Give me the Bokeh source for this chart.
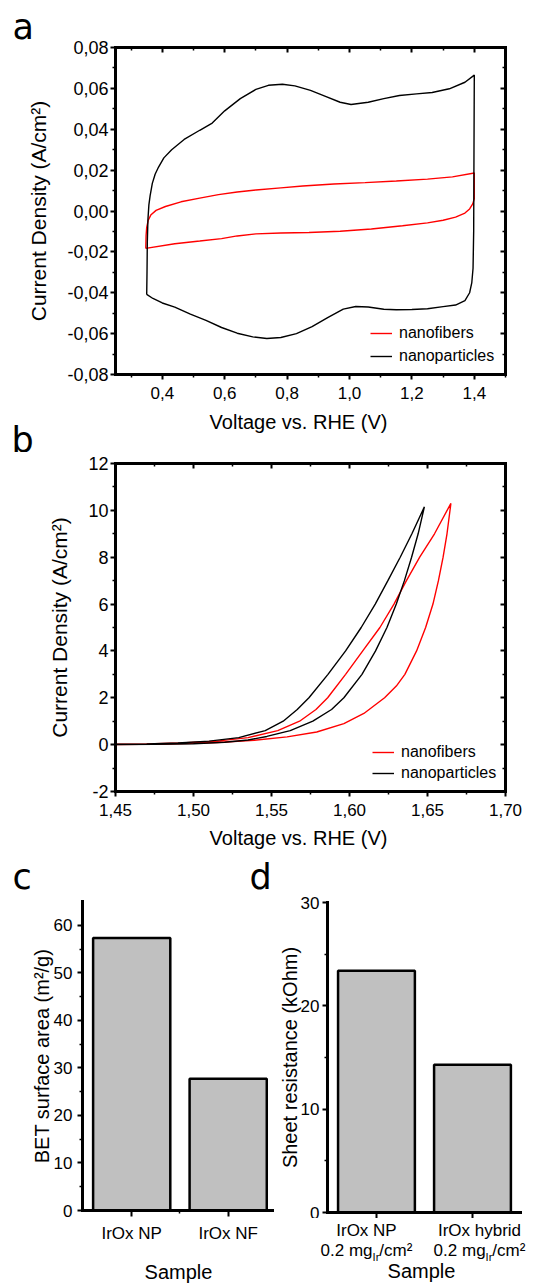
from bokeh.plotting import figure
from bokeh.models import (Range1d, LinearAxis, FixedTicker, Label, Legend,
                          LegendItem, CustomJSTickFormatter)
from bokeh.layouts import column, row
from bokeh.embed import file_html
from bokeh.resources import INLINE

FONT = "Liberation Sans"
LETTER_FONT = "DejaVu Sans"

# ---------------- data ----------------
# (a) cyclic voltammograms (V vs RHE, A/cm2)
cv_nf_v = [0.347, 0.348, 0.350, 0.355, 0.363, 0.380, 0.410, 0.460, 0.520, 0.580,
           0.640, 0.700, 0.780, 0.850, 0.950, 1.050, 1.150, 1.250, 1.330, 1.400,
           1.400, 1.395, 1.385, 1.370, 1.340, 1.300, 1.250, 1.170, 1.070, 0.970,
           0.870, 0.780, 0.700, 0.640, 0.590, 0.520, 0.440, 0.347]
cv_nf_j = [-0.0183, -0.0120, -0.0080, -0.0045, -0.0020, 0.0003, 0.0022, 0.0045, 0.0063, 0.0080,
           0.0093, 0.0103, 0.0113, 0.0122, 0.0132, 0.0139, 0.0147, 0.0156, 0.0167, 0.0186,
           0.0060, 0.0035, 0.0010, -0.0010, -0.0030, -0.0045, -0.0058, -0.0072, -0.0088, -0.0099,
           -0.0105, -0.0108, -0.0112, -0.0122, -0.0135, -0.0147, -0.0160, -0.0183]

cv_np_v = [0.350, 0.351, 0.352, 0.354, 0.357, 0.361, 0.368, 0.377, 0.388, 0.405,
           0.430, 0.470, 0.520, 0.560, 0.600, 0.650, 0.700, 0.740, 0.785, 0.825,
           0.875, 0.925, 0.970, 1.005, 1.060, 1.110, 1.160, 1.215, 1.265, 1.320,
           1.370, 1.400,
           1.399, 1.398, 1.396, 1.392, 1.385, 1.370, 1.340, 1.300, 1.250, 1.200,
           1.150, 1.110, 1.060, 1.020, 0.980, 0.930, 0.880, 0.830, 0.780, 0.735,
           0.690, 0.640, 0.590, 0.540, 0.490, 0.440, 0.400, 0.370, 0.350]
cv_np_j = [-0.0408, -0.0300, -0.0150, -0.0040, 0.0030, 0.0075, 0.0135, 0.0180, 0.0215, 0.0260,
           0.0300, 0.0350, 0.0395, 0.0430, 0.0490, 0.0550, 0.0595, 0.0615, 0.0620, 0.0612,
           0.0590, 0.0560, 0.0532, 0.0521, 0.0532, 0.0550, 0.0565, 0.0573, 0.0580, 0.0598,
           0.0630, 0.0665,
           0.0300, -0.0100, -0.0280, -0.0350, -0.0400, -0.0438, -0.0460, -0.0468, -0.0478, -0.0482,
           -0.0483, -0.0481, -0.0470, -0.0467, -0.0480, -0.0522, -0.0566, -0.0600, -0.0619, -0.0624,
           -0.0616, -0.0598, -0.0570, -0.0535, -0.0505, -0.0470, -0.0450, -0.0428, -0.0408]

a_x_ticks = [0.4, 0.6, 0.8, 1.0, 1.2, 1.4]
a_x_labels = ["0,4", "0,6", "0,8", "1,0", "1,2", "1,4"]
a_x_minor = [0.3, 0.5, 0.7, 0.9, 1.1, 1.3, 1.5]
a_y_ticks = [-0.08, -0.06, -0.04, -0.02, 0.0, 0.02, 0.04, 0.06, 0.08]
a_y_labels = ["-0,08", "-0,06", "-0,04", "-0,02", "0,00", "0,02", "0,04", "0,06", "0,08"]
a_y_minor = [-0.07, -0.05, -0.03, -0.01, 0.01, 0.03, 0.05, 0.07]

# (b) polarisation curves (V vs RHE, A/cm2): forward branch then backward branch
lsv_nf_v = [1.4500, 1.4830, 1.5150, 1.5390, 1.5600, 1.5790, 1.5964, 1.6092, 1.6225, 1.6300,
            1.6355, 1.6430, 1.6488, 1.6535, 1.6570, 1.6600, 1.6625, 1.6650,
            1.6545, 1.6450, 1.6365, 1.6285, 1.6195, 1.6085, 1.5975, 1.5860, 1.5785,
            1.5680, 1.5540, 1.5350, 1.5150, 1.4920, 1.4700, 1.4500]
lsv_nf_j = [0.00, 0.03, 0.09, 0.19, 0.33, 0.54, 0.90, 1.33, 2.00, 2.50,
            3.00, 4.00, 5.00, 6.00, 7.00, 8.00, 9.00, 10.30,
            9.00, 8.00, 7.00, 6.00, 5.00, 4.00, 3.00, 2.00, 1.50,
            1.00, 0.60, 0.30, 0.15, 0.07, 0.03, 0.02]
lsv_np_v = [1.4500, 1.4750, 1.5000, 1.5200, 1.5350, 1.5470, 1.5620, 1.5765, 1.5885, 1.5964,
            1.6080, 1.6167, 1.6240, 1.6300, 1.6352, 1.6398, 1.6440, 1.6480,
            1.6400, 1.6325, 1.6246, 1.6165, 1.6075, 1.5975, 1.5862, 1.5740, 1.5665,
            1.5575, 1.5460, 1.5290, 1.5100, 1.4900, 1.4700, 1.4500]
lsv_np_j = [0.00, 0.01, 0.04, 0.10, 0.20, 0.35, 0.60, 1.00, 1.50, 2.00,
            3.00, 4.00, 5.00, 6.00, 7.00, 8.00, 9.00, 10.15,
            9.00, 8.00, 7.00, 6.00, 5.00, 4.00, 3.00, 2.00, 1.50,
            1.00, 0.60, 0.30, 0.15, 0.07, 0.03, 0.02]

b_x_ticks = [1.45, 1.50, 1.55, 1.60, 1.65, 1.70]
b_x_labels = ["1,45", "1,50", "1,55", "1,60", "1,65", "1,70"]
b_x_minor = [1.475, 1.525, 1.575, 1.625, 1.675]
b_y_ticks = [-2, 0, 2, 4, 6, 8, 10, 12]
b_y_labels = ["-2", "0", "2", "4", "6", "8", "10", "12"]
b_y_minor = [-1, 1, 3, 5, 7, 9, 11]

series_names = ["nanofibers", "nanoparticles"]
x_title = "Voltage vs. RHE (V)"
y_title = "Current Density (A/cm²)"

# (c) BET surface area
bet_samples = ["IrOx NP", "IrOx NF"]
bet_area = [57.3, 27.7]
c_y_ticks = [0, 10, 20, 30, 40, 50, 60]
c_y_minor = [5, 15, 25, 35, 45, 55]

# (d) sheet resistance
res_samples = ["IrOx NP", "IrOx hybrid"]
res_loading = ["0.2", "0.2"]
res_kohm = [23.4, 14.3]
d_y_ticks = [0, 10, 20, 30]
d_y_minor = [5, 15, 25]

RED = "#ff0000"
W = 545


# ---------------- helpers ----------------
def make_fig(width, height, xr, yr, left, right, top, bottom):
    p = figure(width=width, height=height, x_range=xr, y_range=yr,
               output_backend="svg", toolbar_location=None,
               min_border_left=left, min_border_right=right,
               min_border_top=top, min_border_bottom=bottom)
    p.outline_line_color = None
    p.xgrid.visible = False
    p.ygrid.visible = False
    p.background_fill_color = "white"
    p.border_fill_color = "white"
    return p


def strip(width, height, xr=None):
    s = figure(width=width, height=height,
               x_range=xr if xr is not None else Range1d(0, width),
               y_range=Range1d(0, height), output_backend="svg",
               toolbar_location=None, x_axis_type=None, y_axis_type=None,
               min_border_left=0, min_border_right=0,
               min_border_top=0, min_border_bottom=0)
    s.outline_line_color = None
    s.background_fill_color = "white"
    s.border_fill_color = "white"
    return s


def style_axis(ax, ticks, minor, labels, inward, font_size="17px"):
    ax.ticker = FixedTicker(ticks=ticks, minor_ticks=minor)
    if labels is None:
        ax.formatter = CustomJSTickFormatter(code="return ''")
        ax.major_label_text_font_size = "0px"
        ax.major_label_standoff = 0
    else:
        ax.major_label_overrides = dict(zip(ticks, labels))
        ax.major_label_text_font_size = font_size
    ax.axis_line_width = 3
    ax.axis_line_color = "black"
    ax.axis_line_cap = "square"
    ax.major_tick_line_width = 2
    ax.minor_tick_line_width = 1.5
    ax.major_tick_line_color = "black"
    ax.minor_tick_line_color = "black"
    if inward:
        ax.major_tick_in, ax.major_tick_out = 5, 0
        ax.minor_tick_in, ax.minor_tick_out = 3, 0
    else:
        ax.major_tick_in, ax.major_tick_out = 0, 5
        ax.minor_tick_in, ax.minor_tick_out = 0, 3
    ax.major_label_text_font = FONT
    ax.major_label_text_color = "black"
    ax.axis_label_text_font = FONT
    ax.axis_label_text_font_style = "normal"
    ax.axis_label_text_font_size = "20px"
    ax.axis_label_text_color = "black"


def text_label(p, text, x, y, size, font=FONT, align="left", x_units="screen", x_offset=0):
    p.add_layout(Label(x=x, y=y, x_units=x_units, y_units="screen", x_offset=x_offset,
                       text=text, text_font=font, text_font_size=size,
                       text_baseline="alphabetic", text_align=align,
                       text_color="black"))


def curve_panel(height, xr, yr, top, bottom, xs, ys, xt, xl, xm, yt, yl, ym, legend_xy, legend_spacing):
    p = make_fig(W, height, xr, yr, 115, 40, top, bottom)
    r_nf = p.line(xs[0], ys[0], line_color=RED, line_width=1.4)
    r_np = p.line(xs[1], ys[1], line_color="black", line_width=1.4)
    style_axis(p.xaxis[0], xt, xm, xl, False)
    p.xaxis[0].major_label_standoff = 7
    style_axis(p.yaxis[0], yt, ym, yl, False, font_size="18px")
    p.yaxis[0].axis_label = y_title
    p.yaxis[0].axis_label_text_font_size = "21px"
    p.yaxis[0].major_label_standoff = 2
    p.yaxis[0].axis_label_standoff = 14
    top_ax = LinearAxis()
    style_axis(top_ax, xt, xm, None, True)
    p.add_layout(top_ax, "above")
    right_ax = LinearAxis()
    style_axis(right_ax, yt, ym, None, True)
    p.add_layout(right_ax, "right")
    leg = Legend(items=[LegendItem(label=series_names[0], renderers=[r_nf]),
                        LegendItem(label=series_names[1], renderers=[r_np])],
                 location=legend_xy, border_line_color=None, background_fill_alpha=0,
                 padding=0, margin=0, spacing=legend_spacing, glyph_width=22, glyph_height=20,
                 label_standoff=7, label_height=20, label_text_font=FONT,
                 label_text_font_size="16px", label_text_color="black")
    p.add_layout(leg)
    return p


LETTER_SIZE = "35px"

# ---------------- panel a (panel letter as the figure title) ----------------
pa = curve_panel(407, Range1d(0.25, 1.5), Range1d(-0.08, 0.08), 47, 33,
                 [cv_nf_v, cv_np_v], [cv_nf_j, cv_np_j],
                 a_x_ticks, a_x_labels, a_x_minor, a_y_ticks, a_y_labels, a_y_minor,
                 (255, 8), 3)
pa.title.text = "a"
pa.title.align = "left"
pa.title.offset = -103
pa.title.standoff = 1
pa.title.text_font = LETTER_FONT
pa.title.text_font_size = LETTER_SIZE
pa.title.text_font_style = "normal"
pa.title.text_color = "black"

# ---------------- strip: x title of a, letter "b" ----------------
s_ab = strip(W, 45)
text_label(s_ab, x_title, 298, 31, "20px", align="center")
text_label(s_ab, "b", 11, 13, LETTER_SIZE, LETTER_FONT)

# ---------------- panel b ----------------
pb = curve_panel(371, Range1d(1.45, 1.70), Range1d(-2, 12), 11, 32,
                 [lsv_nf_v, lsv_np_v], [lsv_nf_j, lsv_np_j],
                 b_x_ticks, b_x_labels, b_x_minor, b_y_ticks, b_y_labels, b_y_minor,
                 (257, 8), 1)

# ---------------- strip: x title of b, letters "c" "d" ----------------
s_bc = strip(W, 67)
text_label(s_bc, x_title, 298, 53, "20px", align="center")
text_label(s_bc, "c", 12, 14, LETTER_SIZE, LETTER_FONT)
text_label(s_bc, "d", 249, 14, LETTER_SIZE, LETTER_FONT)

# ---------------- panel c ----------------
c_x = list(range(1, len(bet_samples) + 1))
pc = make_fig(274, 395, Range1d(0.49, 2.48), Range1d(0, 65), 82, 0, 11, 75)
pc.vbar(x=c_x, top=bet_area, width=0.8, bottom=0, fill_color="#c0c0c0",
        line_color="black", line_width=2.5)
style_axis(pc.xaxis[0], c_x, [1.5], bet_samples, False)
pc.xaxis[0].major_tick_out = 6
pc.xaxis[0].major_label_standoff = 7
pc.xaxis[0].axis_label = "Sample"
pc.xaxis[0].axis_label_standoff = 15
style_axis(pc.yaxis[0], c_y_ticks, c_y_minor, [str(t) for t in c_y_ticks], False)
pc.yaxis[0].major_label_standoff = 5
pc.yaxis[0].axis_label = "BET surface area (m²/g)"
pc.yaxis[0].axis_label_standoff = -2

# ---------------- panel d ----------------
d_x = list(range(1, len(res_samples) + 1))
d_range = Range1d(0.49, 2.5)
D_LEFT, D_FRAME, D_RIGHT = 53, 193, 25
pdd = make_fig(D_LEFT + D_FRAME + D_RIGHT, 328, d_range, Range1d(0, 30), D_LEFT, D_RIGHT, 12, 6)
pdd.vbar(x=d_x, top=res_kohm, width=0.8, bottom=0, fill_color="#c0c0c0",
         line_color="black", line_width=2.5)
style_axis(pdd.xaxis[0], d_x, [], None, False)
pdd.xaxis[0].major_tick_out = 6
style_axis(pdd.yaxis[0], d_y_ticks, d_y_minor, [str(t) for t in d_y_ticks], False)
pdd.yaxis[0].major_label_standoff = 3
pdd.yaxis[0].axis_label = "Sheet resistance (kOhm)"
pdd.yaxis[0].axis_label_standoff = -3

# strip under d holding the two-line category labels (with subscript) and "Sample"
px_per_unit = D_FRAME / (d_range.end - d_range.start)
sd_range = Range1d(d_range.start - D_LEFT / px_per_unit, d_range.end + D_RIGHT / px_per_unit)
s_d = strip(D_LEFT + D_FRAME + D_RIGHT, 67, sd_range)
d_label_shift = [-10, 7]
W_MAIN = 17 * 3.057   # "0.2 mg"
W_SUB = 11 * 0.611    # "Ir"
W_TAIL = 17 * 1.944   # "/cm²"
for xi, name, load, sh in zip(d_x, res_samples, res_loading, d_label_shift):
    text_label(s_d, name, xi, 55, "17px", align="center", x_units="data", x_offset=sh)
    start = sh - (W_MAIN + W_SUB + W_TAIL) / 2
    text_label(s_d, load + " mg", xi, 35, "17px", x_units="data", x_offset=start)
    text_label(s_d, "Ir", xi, 29, "11px", x_units="data", x_offset=start + W_MAIN)
    text_label(s_d, "/cm²", xi, 35, "17px", x_units="data", x_offset=start + W_MAIN + W_SUB)
text_label(s_d, "Sample", 147, 15, "20px", align="center")

layout = column(pa, row(s_ab), pb, row(s_bc),
                row(pc, column(row(pdd), row(s_d))))
open("out.html", "w").write(file_html(layout, INLINE))
